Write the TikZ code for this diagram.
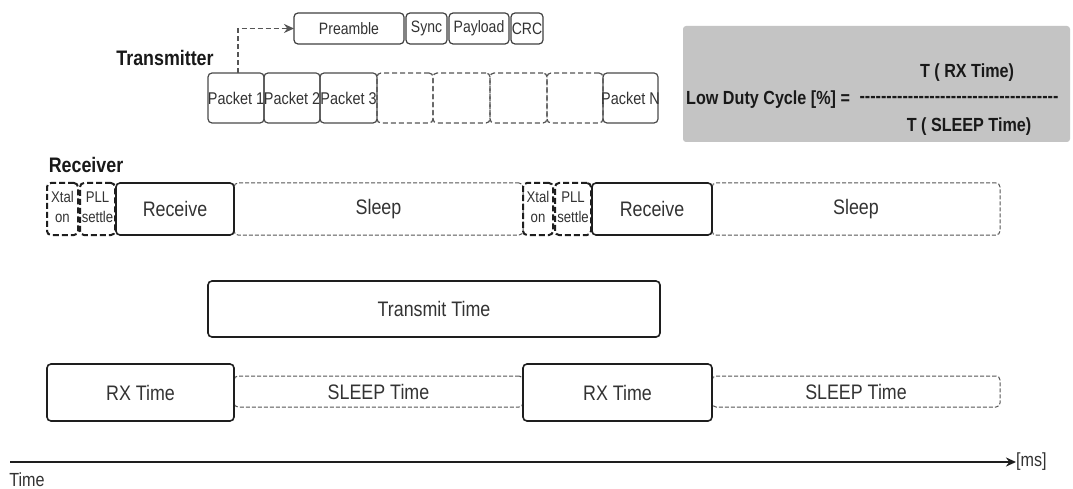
\documentclass[tikz,border=0pt]{standalone}
\usepackage{fontspec}
\setmainfont{Liberation Sans}[FakeStretch=0.85]
\usetikzlibrary{arrows.meta}
\definecolor{txt}{HTML}{333333}
\definecolor{ln}{HTML}{1E1E1E}
\definecolor{dsh}{HTML}{555555}
\definecolor{panel}{HTML}{C4C4C4}
\newcommand\mkbox[7]{%
  \node[#1, minimum width={#5pt-#3pt}, minimum height={#6pt-#4pt}] (#2)
    at ({(#3+#5)/2},{(#4+#6)/2}) {\makebox[0pt]{#7}};}
\tikzset{
  base/.style={inner sep=0pt, outer sep=0pt, text=txt, rounded corners=4pt},
  hdr/.style={base, draw=ln!85, line width=1.2pt, font=\fontsize{16.5}{19}\selectfont},
  pkt/.style={base, draw=ln!80, line width=1.2pt, font=\fontsize{17}{20}\selectfont},
  pktdash/.style={pkt, draw=dsh, dash pattern=on 5pt off 3pt},
  bigbox/.style={base, draw=ln, line width=1.6pt, font=\fontsize{21}{24}\selectfont},
  sleepbox/.style={base, draw=dsh, line width=1pt, dash pattern=on 4pt off 2pt, font=\fontsize{21}{24}\selectfont},
  boot/.style={base, draw=ln, line width=2pt, dash pattern=on 6pt off 3pt, font=\fontsize{15.5}{20}\selectfont},
  panelbox/.style={inner sep=0pt, fill=panel, rounded corners=3pt},
  lbl/.style={inner sep=0pt, text=black!90, font=\bfseries\fontsize{21}{24}\selectfont},
  form/.style={inner sep=0pt, text=black!90, font=\bfseries\fontsize{19}{22}\selectfont},
  plain/.style={inner sep=0pt, text=txt, font=\fontsize{19}{22}\selectfont},
}
\begin{document}
\begin{tikzpicture}[x=1pt,y=-1pt]
\path[use as bounding box, fill=white] (0,0) rectangle (1073,489);

% header of a packet
\mkbox{hdr}{pre}{294}{13}{404}{44}{Preamble}
\mkbox{hdr}{sync}{406}{13}{447}{44}{Sync}
\mkbox{hdr}{pay}{449}{13}{509}{44}{Payload}
\mkbox{hdr}{crc}{511}{13}{543}{44}{CRC}

% transmitter
\node[lbl] (tx) at (165,58) {Transmitter};
\mkbox{pktdash}{d1}{377}{73}{433}{123}{}
\mkbox{pktdash}{d2}{433}{73}{490}{123}{}
\mkbox{pktdash}{d3}{490}{73}{547}{123}{}
\mkbox{pktdash}{d4}{547}{73}{603}{123}{}
\mkbox{pkt}{p1}{208}{73}{264}{123}{Packet 1}
\mkbox{pkt}{p2}{264}{73}{320}{123}{Packet 2}
\mkbox{pkt}{p3}{320}{73}{377}{123}{Packet 3}
\mkbox{pkt}{pN}{603}{73}{658}{123}{Packet N}
\draw[dsh, line width=1.8pt, dash pattern=on 5pt off 3pt, -{Stealth[length=10pt,width=9pt]}]
  ([xshift=2pt]p1.north) |- (pre.west);

% duty cycle panel
\mkbox{panelbox}{panel}{683}{26}{1070}{142}{}
\node[form, anchor=west] (ldc) at (686,100) {Low Duty Cycle [\%] =};
\node[form] (num) at (967,73) {T ( RX Time)};
\node[form] (bar) at (959,99) {\foreach \i in {1,...,37}{-{}}};
\node[form] (den) at (969,127) {T ( SLEEP Time)};

% receiver
\node[lbl] (rx) at (86,165) {Receiver};
\mkbox{sleepbox}{sl1}{234}{183}{523}{235}{Sleep}
\mkbox{sleepbox}{sl2}{712}{183}{1000}{235}{Sleep}
\mkbox{boot}{xt1}{47}{183}{78}{235}{\begin{tabular}{@{}c@{}}Xtal\\on\end{tabular}}
\mkbox{boot}{pl1}{80}{183}{115}{235}{\begin{tabular}{@{}c@{}}PLL\\settle\end{tabular}}
\mkbox{bigbox}{rc1}{116}{183}{234}{235}{Receive}
\mkbox{boot}{xt2}{523}{183}{553}{235}{\begin{tabular}{@{}c@{}}Xtal\\on\end{tabular}}
\mkbox{boot}{pl2}{555}{183}{591}{235}{\begin{tabular}{@{}c@{}}PLL\\settle\end{tabular}}
\mkbox{bigbox}{rc2}{592}{183}{712}{235}{Receive}

% transmit time
\mkbox{bigbox}{tt}{208}{281}{660}{337}{Transmit Time}

% rx / sleep times
\mkbox{sleepbox}{st1}{234}{376}{523}{407}{SLEEP Time}
\mkbox{sleepbox}{st2}{712}{376}{1000}{407}{SLEEP Time}
\mkbox{bigbox}{rt1}{47}{364}{234}{421}{RX Time}
\mkbox{bigbox}{rt2}{523}{364}{712}{421}{RX Time}

% time axis
\coordinate (t0) at (10,462);
\node[plain, anchor=west] (ms) at (1016,462) {[ms]};
\draw[ln, line width=1.8pt, -{Stealth[length=10pt,width=9pt]}] (t0) -- (ms.west);
\node[plain] (tl) at (27,480) {Time};
\end{tikzpicture}
\end{document}
